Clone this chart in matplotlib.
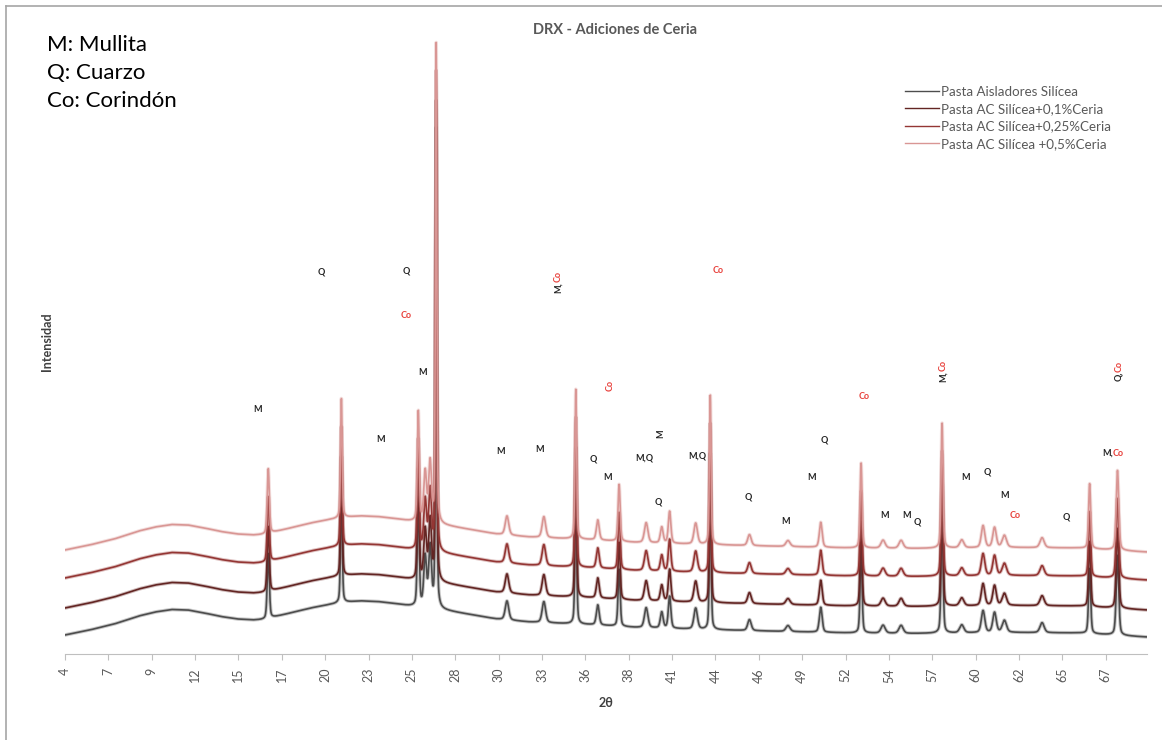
import numpy as np
import matplotlib.pyplot as plt
from matplotlib.lines import Line2D

# Four diffractograms (offset vertically), 2theta from 4 to 70 degrees
series_names = ['Pasta Aisladores Silícea', 'Pasta AC Silícea+0,1%Ceria',
                'Pasta AC Silícea+0,25%Ceria', 'Pasta AC Silícea +0,5%Ceria']
series_colors = ['#4d4d4d', '#632523', '#943634', '#D99694']
series_offsets = [0, 270, 570, 850]

# Background (amorphous hump) of the base paste
bg_2theta = [4.0, 5.5, 7.0, 8.5, 9.5, 10.5, 11.5, 12.5, 13.5, 14.5, 15.5, 16.2,
             17.0, 18.0, 19.0, 20.0, 21.0, 22.0, 23.0, 24.0, 25.0, 27.0, 28.5,
             30.3, 32.3, 34.3, 36.4, 38.8, 42.9, 47.9, 52.0, 55.6, 61.7, 65.8, 69.9]
bg_counts = [190, 240, 300, 380, 420, 445, 440, 410, 375, 350, 340, 345,
             380, 420, 460, 490, 515, 530, 525, 505, 480, 440, 400,
             350, 320, 305, 290, 265, 245, 225, 210, 205, 215, 210, 170]

# Reflections: position (2theta), height (counts) and FWHM (degrees)
peak_pos = [16.4, 20.86, 25.55, 25.97, 26.27, 26.64, 30.96, 33.21, 35.16, 36.5,
            37.8, 39.45, 40.4, 40.88, 42.47, 43.36, 45.75, 48.1, 50.1, 52.56,
            53.9, 55.0, 57.5, 58.7, 60.0, 60.7, 61.3, 63.6, 66.5, 68.2]
peak_height = [650, 1200, 1100, 500, 600, 4800, 190, 210, 1500, 200,
               570, 200, 160, 320, 210, 1500, 110, 60, 250, 850,
               80, 80, 1250, 80, 220, 200, 120, 100, 650, 800]
peak_fwhm = [0.15, 0.12, 0.14, 0.2, 0.2, 0.1, 0.25, 0.25, 0.12, 0.2,
             0.15, 0.25, 0.2, 0.18, 0.25, 0.12, 0.25, 0.3, 0.2, 0.14,
             0.3, 0.3, 0.14, 0.3, 0.25, 0.25, 0.3, 0.3, 0.15, 0.18]

tick_labels = ['4', '7', '9', '12', '15', '17', '20', '23', '25', '28', '30', '33', '36',
               '38', '41', '44', '46', '49', '52', '54', '57', '60', '62', '65', '67']

# Phase labels: text pieces (text, colour), 2theta, intensity, rotation
BLK, RED = '#262626', '#e8413c'
phase_labels = [
    ([('Q', BLK)], 19.64, 3820, 0), ([('Q', BLK)], 24.82, 3830, 0),
    ([('Co', RED)], 24.82, 3380, 0), ([('M', BLK)], 25.79, 2810, 0),
    ([('M', BLK)], 15.75, 2440, 0), ([('M', BLK)], 23.23, 2150, 0),
    ([('M,', BLK), ('Co', RED)], 34.07, 3720, 90),
    ([('Co', RED)], 43.87, 3830, 0), ([('Co', RED)], 37.23, 2740, 90),
    ([('M', BLK)], 30.54, 2020, 0), ([('M', BLK)], 32.97, 2040, 0),
    ([('Q', BLK)], 36.2, 1950, 0), ([('M', BLK)], 37.11, 1770, 0),
    ([('M,Q', BLK)], 39.36, 1960, 0), ([('M', BLK)], 40.34, 2250, 90),
    ([('Q', BLK)], 40.21, 1520, 0), ([('M,Q', BLK)], 42.59, 1980, 0),
    ([('Q', BLK)], 45.69, 1570, 0), ([('M', BLK)], 47.94, 1320, 0),
    ([('M', BLK)], 49.53, 1760, 0), ([('Q', BLK)], 50.32, 2140, 0),
    ([('Co', RED)], 52.75, 2570, 0), ([('M,', BLK), ('Co', RED)], 57.56, 2830, 90),
    ([('M', BLK)], 53.97, 1380, 0), ([('M', BLK)], 55.31, 1390, 0),
    ([('Q', BLK)], 55.98, 1320, 0), ([('M', BLK)], 58.96, 1760, 0),
    ([('Q', BLK)], 60.24, 1820, 0), ([('M', BLK)], 61.33, 1580, 0),
    ([('Co', RED)], 61.94, 1380, 0), ([('Q', BLK)], 65.05, 1370, 0),
    ([('M,', BLK), ('Co', RED)], 67.6, 2010, 0),
    ([('Q,', BLK), ('Co', RED)], 68.27, 2820, 90),
]

plt.rcParams['font.family'] = ['Lato', 'DejaVu Sans']

x = np.linspace(4, 70, 6000)
background = np.interp(x, bg_2theta, bg_counts)


def pattern(scale=1.0):
    y = background.copy()
    for p, h, w in zip(peak_pos, peak_height, peak_fwhm):
        g = np.exp(-4 * np.log(2) * ((x - p) / w) ** 2)
        lor = 1 / (1 + 4 * ((x - p) / w) ** 2)
        y += scale * h * (0.6 * g + 0.4 * lor)
    return y


fig = plt.figure(figsize=(11.62, 7.40), dpi=100)
ax = fig.add_axes([65 / 1162, 86 / 740, 1082 / 1162, 624 / 740])

for name, color, off in zip(series_names, series_colors, series_offsets):
    y = pattern() + off
    # soft halo under each trace
    ax.plot(x, y, color=color, lw=2.6, alpha=0.3)
    ax.plot(x, y, color=color, lw=1.2, label=name)

ax.set_xlim(4, 70)
ax.set_ylim(0, 6240)
step = 2.645
ax.set_xticks([4 + i * step for i in range(len(tick_labels))])
ax.set_xticklabels(tick_labels, rotation=90, fontsize=9, color='#595959')
ax.set_yticks([])
for s in ['top', 'right', 'left']:
    ax.spines[s].set_visible(False)
ax.spines['bottom'].set_color('#bfbfbf')
ax.tick_params(axis='x', length=4, color='#bfbfbf', pad=6)
ax.set_xlabel('2θ', fontsize=9, fontweight='bold', color='#404040', labelpad=10)
ax.set_ylabel('Intensidad', fontsize=9, fontweight='bold', color='#404040', labelpad=9)

# phase identification labels
for parts, tx, ty, rot in phase_labels:
    t = None
    for txt, col in parts:
        if rot == 0:
            if t is None:
                t = ax.annotate(txt, (tx, ty), ha='center', va='center', fontsize=6.5,
                                fontweight='bold', color=col)
            else:
                t = ax.annotate(txt, xycoords=t, xy=(1, 0.5), va='center', ha='left',
                                fontsize=6.5, fontweight='bold', color=col)
        else:
            if t is None:
                t = ax.annotate(txt, (tx, ty), ha='center', va='top', fontsize=6.5,
                                fontweight='bold', color=col, rotation=90)
            else:
                t = ax.annotate(txt, xycoords=t, xy=(0.5, 1), va='bottom', ha='center',
                                fontsize=6.5, fontweight='bold', color=col, rotation=90)

handles = [Line2D([], [], color=c, lw=1.0) for c in series_colors]
ax.legend(handles, series_names, loc='upper right', bbox_to_anchor=(0.978, 0.93),
          frameon=False, fontsize=9.6, handlelength=2.6, labelcolor='#595959',
          labelspacing=0.4, handletextpad=0.15)

fig.text(615 / 1162, 1 - 30 / 740, 'DRX - Adiciones de Ceria', ha='center', va='center',
         fontsize=10.5, fontweight='bold', color='#595959')
for i, line in enumerate(['M: Mullita', 'Q: Cuarzo', 'Co: Corindón']):
    fig.text(47 / 1162, 1 - (45 + 28 * i) / 740, line, ha='left', va='center',
             fontsize=16, color='#000000')

# chart frame
fig.add_artist(Line2D([6 / 1162, 6 / 1162], [0, 1 - 6 / 740], transform=fig.transFigure,
                      color='#a6a6a6', lw=1.2))
fig.add_artist(Line2D([6 / 1162, 1], [1 - 6 / 740, 1 - 6 / 740], transform=fig.transFigure,
                      color='#a6a6a6', lw=1.2))

fig.savefig('out.png', dpi=100)
